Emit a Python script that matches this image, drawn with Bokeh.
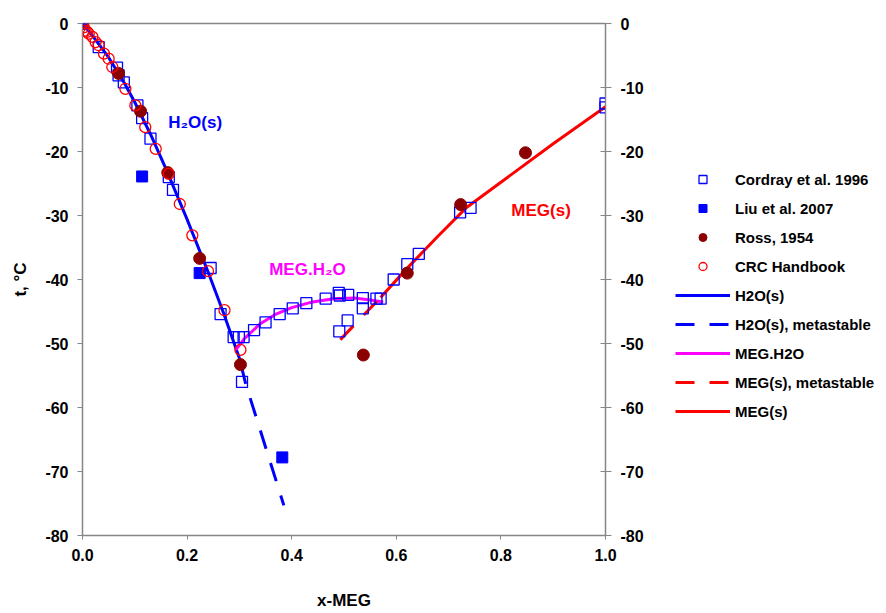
from bokeh.plotting import figure
from bokeh.layouts import row
from bokeh.models import (LinearAxis, Range1d, FixedTicker, PrintfTickFormatter,
                          Legend, LegendItem, Label)
from bokeh.embed import file_html
from bokeh.resources import INLINE

# --- Cordray et al. 1996 (open squares) ---
cordray_x = [0.0, 0.031, 0.066, 0.069, 0.079, 0.105, 0.114, 0.130, 0.165, 0.173,
             0.245, 0.264, 0.289, 0.299, 0.308, 0.305, 0.328, 0.350, 0.377, 0.402,
             0.428, 0.465, 0.490, 0.492, 0.508, 0.536, 0.536, 0.562, 0.570, 0.491,
             0.507, 0.595, 0.621, 0.643, 0.722, 0.742, 1.0, 1.0]
cordray_t = [0.0, -3.7, -6.9, -8.1, -9.2, -12.8, -14.8, -18.0, -24.0, -26.0,
             -38.2, -45.4, -49.0, -49.0, -49.0, -56.0, -47.9, -46.7, -45.4, -44.5,
             -43.7, -43.0, -42.1, -42.5, -42.4, -42.9, -44.5, -43.0, -43.0, -48.1,
             -46.4, -40.0, -37.6, -36.0, -29.5, -28.8, -12.5, -13.1]

# --- Liu et al. 2007 (filled squares) ---
liu_x = [0.0, 0.114, 0.224, 0.382]
liu_t = [0.0, -23.9, -39.0, -67.8]

# --- Ross, 1954 (filled circles) ---
ross_x = [0.069, 0.111, 0.163, 0.224, 0.302, 0.537, 0.621, 0.723, 0.847]
ross_t = [-7.8, -13.7, -23.3, -36.7, -53.3, -51.8, -39.0, -28.3, -20.2]

# --- CRC Handbook (open circles) ---
crc_x = [0.0, 0.0025, 0.0057, 0.009, 0.012, 0.019, 0.025, 0.031, 0.041, 0.050,
         0.057, 0.082, 0.101, 0.120, 0.140, 0.165, 0.186, 0.210, 0.240, 0.2715, 0.302]
crc_t = [0.0, -0.6, -1.1, -1.3, -1.6, -2.1, -2.9, -3.4, -4.7, -5.5,
         -6.8, -10.2, -12.8, -16.2, -19.6, -23.5, -28.2, -33.1, -38.7, -44.8, -51.0]

# --- Liquidus curves ---
h2o_x = [0.0, 0.02, 0.05, 0.08, 0.10, 0.13, 0.16, 0.20, 0.24, 0.27, 0.30, 0.312]
h2o_t = [0.0, -2.0, -5.3, -9.3, -12.3, -17.3, -22.8, -30.6, -38.8, -45.3, -52.3, -56.3]
h2o_meta_x = [0.312, 0.385]
h2o_meta_t = [-56.3, -75.3]
hyd_x = [0.293, 0.31, 0.34, 0.37, 0.40, 0.44, 0.48, 0.52, 0.55, 0.575]
hyd_t = [-51.0, -49.2, -46.9, -45.4, -44.4, -43.5, -43.0, -42.9, -43.2, -43.5]
meg_meta_x = [0.493, 0.57]
meg_meta_t = [-49.4, -42.8]
meg_x = [0.57, 0.62, 0.68, 0.735, 0.80, 0.90, 1.0]
meg_t = [-42.8, -38.3, -33.2, -28.7, -24.8, -18.8, -13.0]

x_ticks = [0.0, 0.2, 0.4, 0.6, 0.8, 1.0]
y_ticks = [0, -10, -20, -30, -40, -50, -60, -70, -80]

legend_labels = ["Cordray et al. 1996", "Liu et al. 2007", "Ross, 1954", "CRC Handbook",
                 "H2O(s)", "H2O(s), metastable", "MEG.H2O", "MEG(s), metastable",
                 "MEG(s)"]

FONT = "Liberation Sans"
GRAY = "#868686"
BLUE = "#0000FF"
MAGENTA = "#FF00FF"
RED = "#FF0000"
DARKRED = "#8B0000"

# visual styles shared by the chart and the legend panel
line_styles = [
    dict(line_color=BLUE, line_width=3),
    dict(line_color=BLUE, line_width=3, line_dash="19 15"),
    dict(line_color=MAGENTA, line_width=3),
    dict(line_color=RED, line_width=3, line_dash="19 15"),
    dict(line_color=RED, line_width=3),
]
marker_styles = [
    dict(marker="square", size=11, fill_color=None, line_color=BLUE, line_width=1.3),
    dict(marker="square", size=11, fill_color=BLUE, line_color=BLUE),
    dict(marker="circle", size=12, fill_color=DARKRED, line_color=DARKRED),
    dict(marker="circle", size=11, fill_color=None, line_color=RED, line_width=1.3),
]
# the metastable ice branch starts with a gap below the solid curve
dash_offsets = [0, 19, 0, 0, 0]

fig = figure(width=660, height=613, x_range=Range1d(0, 1), y_range=Range1d(-80, 0),
             output_backend="svg", toolbar_location=None,
             min_border_left=82, min_border_right=55, min_border_top=23,
             min_border_bottom=78)
fig.background_fill_color = "white"
fig.border_fill_color = "white"
fig.outline_line_color = GRAY
fig.outline_line_width = 1.5
fig.xgrid.grid_line_color = None
fig.ygrid.grid_line_color = None

# curves
for (xs, ts), st, off in zip([(h2o_x, h2o_t), (h2o_meta_x, h2o_meta_t), (hyd_x, hyd_t),
                              (meg_meta_x, meg_meta_t), (meg_x, meg_t)],
                             line_styles, dash_offsets):
    fig.line(xs, ts, line_dash_offset=off, **st)

# experimental points
for (xs, ts), st in zip([(cordray_x, cordray_t), (liu_x, liu_t), (ross_x, ross_t),
                         (crc_x, crc_t)], marker_styles):
    fig.scatter(xs, ts, **st)

# axes
for ax in (fig.xaxis[0], fig.yaxis[0]):
    ax.axis_line_color = GRAY
    ax.major_tick_line_color = GRAY
    ax.minor_tick_line_color = None
    ax.major_tick_in = 0
    ax.major_label_text_font = FONT
    ax.major_label_text_font_style = "bold"
    ax.major_label_text_font_size = "16px"
    ax.major_label_text_color = "black"
    ax.axis_label_text_font = FONT
    ax.axis_label_text_font_style = "bold"
    ax.axis_label_text_font_size = "17px"
    ax.axis_label_text_color = "black"

fig.xaxis.ticker = FixedTicker(ticks=x_ticks)
fig.xaxis.formatter = PrintfTickFormatter(format="%.1f")
fig.xaxis.major_tick_out = 4
fig.xaxis.major_label_standoff = 9
fig.xaxis.axis_label = "x-MEG"
fig.xaxis.axis_label_standoff = 27

fig.yaxis.ticker = FixedTicker(ticks=y_ticks)
fig.yaxis.formatter = PrintfTickFormatter(format="%d")
fig.yaxis.major_tick_out = 5
fig.yaxis.major_label_standoff = 9
fig.yaxis.axis_label = "t, °C"
fig.yaxis.axis_label_standoff = 12

right = LinearAxis(ticker=FixedTicker(ticks=y_ticks),
                   formatter=PrintfTickFormatter(format="%d"))
right.axis_line_color = GRAY
right.major_tick_line_color = GRAY
right.minor_tick_line_color = None
right.major_tick_in = 5
right.major_tick_out = 6
right.major_label_standoff = 9
right.major_label_text_font = FONT
right.major_label_text_font_style = "bold"
right.major_label_text_font_size = "16px"
right.major_label_text_color = "black"
fig.add_layout(right, "right")

# curve annotations
for txt, x, y, col in [("H₂O(s)", 0.164, -15.4, BLUE),
                       ("MEG.H₂O", 0.357, -38.4, MAGENTA),
                       ("MEG(s)", 0.82, -29.2, RED)]:
    fig.add_layout(Label(x=x, y=y, text=txt, text_color=col, text_font=FONT,
                         text_font_style="bold", text_font_size="17px",
                         text_baseline="alphabetic"))

# legend panel to the right of the chart; its key glyphs sit outside the
# visible range so only the legend symbols show
leg_fig = figure(width=226, height=613, x_range=Range1d(0, 1), y_range=Range1d(0, 1),
                 output_backend="svg", toolbar_location=None, min_border=0)
leg_fig.axis.visible = False
leg_fig.grid.visible = False
leg_fig.outline_line_color = None
leg_fig.background_fill_color = "white"
leg_fig.border_fill_color = "white"

key_renderers = [leg_fig.scatter([5], [5], **st) for st in marker_styles]
key_renderers += [leg_fig.line([5, 6], [5, 6], **st) for st in line_styles]

legend = Legend(items=[LegendItem(label=lab, renderers=[r])
                       for lab, r in zip(legend_labels, key_renderers)],
                location=(15, 114))
legend.border_line_color = None
legend.background_fill_alpha = 0
legend.padding = 0
legend.margin = 0
legend.spacing = 9
legend.glyph_width = 55
legend.glyph_height = 20
legend.label_height = 20
legend.label_standoff = 5
legend.label_text_font = FONT
legend.label_text_font_style = "bold"
legend.label_text_font_size = "15px"
legend.label_text_color = "black"
leg_fig.add_layout(legend)

p = row(fig, leg_fig, spacing=0)

open("out.html", "w").write(file_html(p, INLINE))
